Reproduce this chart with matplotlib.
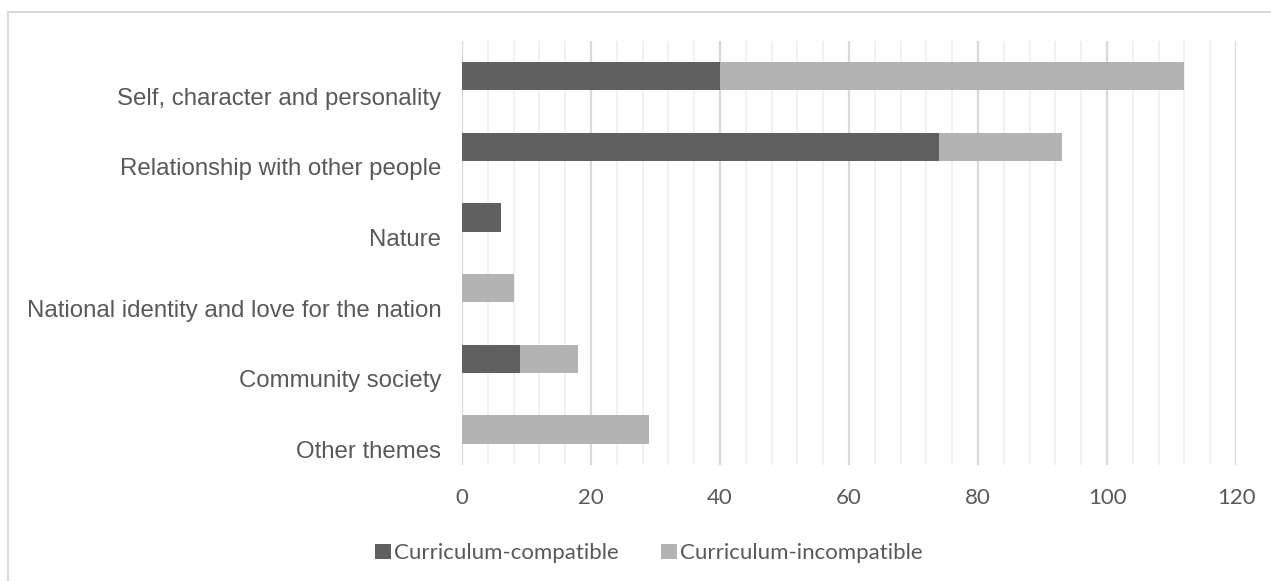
import numpy as np
import matplotlib
matplotlib.use('Agg')
import matplotlib.pyplot as plt
import matplotlib.transforms as mtransforms
from matplotlib.patches import Rectangle

# Themes and counts per curriculum compatibility
themes = ['Self, character and personality', 'Relationship with other people', 'Nature',
          'National identity and love for the nation', 'Community society', 'Other themes']
compatible = [40, 74, 6, 0, 9, 0]
incompatible = [72, 19, 0, 8, 9, 29]
series_labels = ['Curriculum-compatible', 'Curriculum-incompatible']

DARK = '#606060'
LIGHT = '#b3b3b3'
TEXT = '#595959'

fig = plt.figure(figsize=(12.71, 5.81), dpi=100)
ax = fig.add_axes([0.3635, 0.2, 0.609, 0.7294])

y = np.arange(len(themes))
h = 0.4
b1 = ax.barh(y, compatible, height=h, color=DARK, label=series_labels[0], zorder=3)
b2 = ax.barh(y, incompatible, height=h, left=compatible, color=LIGHT, label=series_labels[1], zorder=3)

ax.set_xlim(0, 120)
ax.set_ylim(len(themes) - 0.5, -0.5)

# gridlines: major every 20, minor every 4
ax.set_xticks(np.arange(0, 121, 20))
ax.set_xticks(np.arange(0, 121, 4), minor=True)
ax.grid(axis='x', which='major', color='#d9d9d9', linewidth=1.6, zorder=0)
ax.grid(axis='x', which='minor', color='#f0f0f0', linewidth=1.3, zorder=0)
ax.tick_params(axis='x', which='both', length=0, pad=17, labelsize=16, labelcolor=TEXT)
for lbl in ax.get_xticklabels():
    lbl.set_fontfamily('Lato')

ax.set_yticks(y)
ax.set_yticklabels(themes, fontsize=17.3, color=TEXT, fontfamily='Liberation Sans')
ax.tick_params(axis='y', length=0, pad=15)
shift = mtransforms.ScaledTranslation(0, -0.2, fig.dpi_scale_trans)
for lbl in ax.get_yticklabels():
    lbl.set_transform(lbl.get_transform() + shift)

for s in ax.spines.values():
    s.set_visible(False)

leg = fig.legend(handles=[b1, b2], loc='center', bbox_to_anchor=(0.5106, 0.048), ncol=2,
                 frameon=False, handlelength=0.7, handleheight=0.7,
                 handletextpad=0.15, columnspacing=1.9,
                 prop={'family': 'Lato', 'size': 16})
for t in leg.get_texts():
    t.set_color(TEXT)

# chart area border
fig.patches.append(Rectangle((8 / 1271, -0.1), 1.1, 1 - 12 / 581 + 0.1, transform=fig.transFigure,
                             fill=False, edgecolor='#d9d9d9', linewidth=1.5))

plt.savefig('out.png', dpi=100)
